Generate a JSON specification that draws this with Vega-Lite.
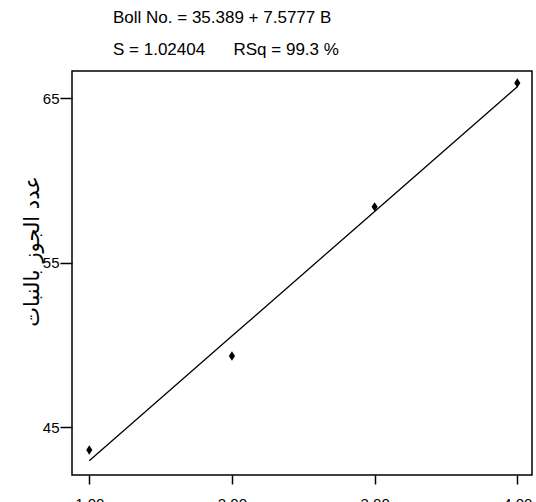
{
  "$schema": "https://vega.github.io/schema/vega-lite/v6.json",
  "autosize": "none",
  "width": 460,
  "height": 404,
  "padding": {"left": 72, "top": 71, "right": 4, "bottom": 27},
  "background": "white",
  "config": {
    "font": "Liberation Sans, Arial, sans-serif",
    "view": {"stroke": "black", "strokeWidth": 1.5},
    "axis": {"grid": false, "domain": false, "tickColor": "black", "tickWidth": 1.5, "labelColor": "black", "titleColor": "black", "labelFont": "Liberation Sans, Arial, sans-serif"}
  },
  "title": {
    "text": ["Boll No. = 35.389 + 7.5777 B", "S = 1.02404\u00a0\u00a0\u00a0\u00a0\u00a0\u00a0RSq = 99.3 %"],
    "anchor": "start",
    "frame": "group",
    "dx": 41,
    "offset": 12,
    "fontSize": 17,
    "fontWeight": "normal",
    "lineHeight": 32,
    "color": "black"
  },
  "data": {
    "values": [
      {"B": 1, "boll": 43.62, "fit": 42.967},
      {"B": 2, "boll": 49.33, "fit": 50.544},
      {"B": 3, "boll": 58.40, "fit": 58.122},
      {"B": 4, "boll": 65.93, "fit": 65.700}
    ]
  },
  "encoding": {
    "x": {
      "field": "B",
      "type": "quantitative",
      "scale": {"domain": [0.879, 4.103], "nice": false, "zero": false},
      "axis": {"values": [1, 2, 3, 4], "format": ".2f", "tickSize": 9, "labelPadding": 12, "labelFontSize": 15, "title": null}
    }
  },
  "layer": [
    {
      "mark": {"type": "line", "color": "black", "strokeWidth": 1.3},
      "encoding": {
        "y": {
          "field": "fit",
          "type": "quantitative",
          "scale": {"domain": [42.1, 66.66], "nice": false, "zero": false},
          "axis": {"values": [45, 55, 65], "tickSize": 12, "labelPadding": 1, "labelFontSize": 15, "title": "عدد الجوز بالنبات", "titleFontSize": 21, "titleFontWeight": "normal", "titleAlign": "center", "titleBaseline": "bottom", "titleAngle": -90, "titleX": -30, "titleY": 180, "titleFont": "DejaVu Sans, Noto Sans, sans-serif"}
        }
      }
    },
    {
      "mark": {"type": "point", "shape": "M0,-1L0.65,0L0,1L-0.65,0Z", "filled": true, "color": "black", "size": 90, "opacity": 1},
      "encoding": {
        "y": {"field": "boll", "type": "quantitative"}
      }
    }
  ]
}
